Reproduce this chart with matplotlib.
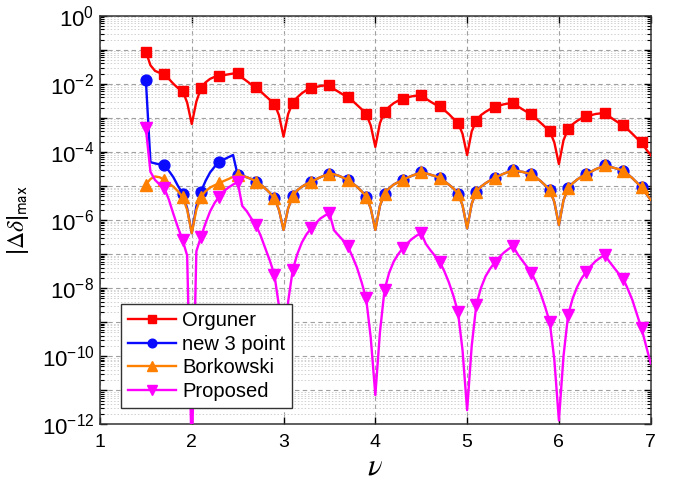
import numpy as np
import matplotlib
matplotlib.use("Agg")
import matplotlib.pyplot as plt
from matplotlib.ticker import LogLocator, FuncFormatter, NullFormatter, FixedLocator

plt.rcParams['font.family'] = ['Liberation Sans', 'DejaVu Sans']
plt.rcParams['mathtext.default'] = 'regular'

# ---- data ----
v_start, v_step, n_pts = 1.5, 0.05, 111
marker_every = 4  # markers at 1.5, 1.7, ..., 6.9

orguner = [
    8.8e-2, 3.5e-2, 2.4e-2, 2.1e-2, 2.0e-2, 1.4e-2, 1.0e-2, 7.5e-3, 6.3e-3, 2.8e-3,
    6.6e-4, 3.0e-3, 7.4e-3, 1.1e-2, 1.4e-2, 1.6e-2, 1.7e-2, 1.8e-2, 1.9e-2, 2.0e-2,
    2.1e-2, 1.5e-2, 1.2e-2, 9.5e-3, 7.9e-3, 6.0e-3, 4.5e-3, 3.4e-3, 2.6e-3, 1.2e-3,
    2.8e-4, 1.3e-3, 2.8e-3, 4.0e-3, 5.3e-3, 6.5e-3, 7.4e-3, 8.0e-3, 8.6e-3, 9.0e-3,
    9.3e-3, 7.0e-3, 5.8e-3, 4.8e-3, 4.2e-3, 3.2e-3, 2.4e-3, 1.8e-3, 1.3e-3, 6.0e-4,
    1.4e-4, 7.0e-4, 1.5e-3, 2.1e-3, 2.7e-3, 3.2e-3, 3.7e-3, 4.0e-3, 4.3e-3, 4.5e-3,
    4.7e-3, 3.7e-3, 3.0e-3, 2.5e-3, 2.2e-3, 1.7e-3, 1.3e-3, 9.5e-4, 7.2e-4, 3.4e-4,
    8.1e-5, 4.0e-4, 8.3e-4, 1.2e-3, 1.5e-3, 1.8e-3, 2.1e-3, 2.3e-3, 2.5e-3, 2.65e-3,
    2.8e-3, 2.2e-3, 1.8e-3, 1.5e-3, 1.3e-3, 9.5e-4, 7.2e-4, 5.4e-4, 4.1e-4, 1.9e-4,
    4.4e-5, 2.2e-4, 4.7e-4, 6.5e-4, 8.2e-4, 9.8e-4, 1.1e-3, 1.2e-3, 1.3e-3, 1.35e-3,
    1.4e-3, 1.1e-3, 8.8e-4, 7.2e-4, 6.2e-4, 4.6e-4, 3.4e-4, 2.5e-4, 1.9e-4, 1.2e-4,
    8.0e-5,
]

borkowski = [
    1.1e-5, 1.6e-5, 1.9e-5, 1.8e-5, 1.5e-5, 1.2e-5, 9.5e-6, 7.0e-6, 4.7e-6, 2.0e-6,
    4.1e-7, 2.0e-6, 4.7e-6, 7.0e-6, 9.0e-6, 1.05e-5, 1.2e-5, 1.4e-5, 1.6e-5, 1.85e-5,
    2.1e-5, 2.0e-5, 1.8e-5, 1.6e-5, 1.35e-5, 1.1e-5, 8.5e-6, 6.3e-6, 4.4e-6, 2.0e-6,
    5.1e-7, 2.2e-6, 5.0e-6, 7.5e-6, 9.5e-6, 1.15e-5, 1.3e-5, 1.55e-5, 1.8e-5, 2.05e-5,
    2.3e-5, 2.2e-5, 2.0e-5, 1.75e-5, 1.5e-5, 1.2e-5, 9.5e-6, 7.0e-6, 4.9e-6, 2.2e-6,
    5.1e-7, 2.6e-6, 6.0e-6, 8.5e-6, 1.1e-5, 1.3e-5, 1.5e-5, 1.75e-5, 2.0e-5, 2.25e-5,
    2.5e-5, 2.35e-5, 2.15e-5, 1.95e-5, 1.7e-5, 1.4e-5, 1.1e-5, 8.5e-6, 6.0e-6, 2.7e-6,
    5.7e-7, 3.0e-6, 6.8e-6, 9.5e-6, 1.2e-5, 1.45e-5, 1.7e-5, 2.0e-5, 2.3e-5, 2.6e-5,
    2.9e-5, 2.75e-5, 2.6e-5, 2.4e-5, 2.2e-5, 1.8e-5, 1.4e-5, 1.05e-5, 7.6e-6, 3.4e-6,
    7.1e-7, 3.8e-6, 8.5e-6, 1.2e-5, 1.55e-5, 1.9e-5, 2.2e-5, 2.6e-5, 3.1e-5, 3.5e-5,
    4.0e-5, 3.7e-5, 3.4e-5, 3.1e-5, 2.8e-5, 2.2e-5, 1.7e-5, 1.25e-5, 9.1e-6, 6.0e-6,
    3.9e-6,
]

# new 3 point: distinct up to v = 2.45, then coincides with Borkowski
new3_head = [
    1.3e-2, 5.0e-5, 4.6e-5, 4.3e-5, 4.0e-5, 2.8e-5, 1.8e-5, 1.0e-5, 6.0e-6, 2.2e-6,
    4.1e-7, 2.5e-6, 6.8e-6, 1.4e-5, 2.5e-5, 3.7e-5, 4.9e-5, 6.0e-5, 7.0e-5, 8.1e-5,
]
new3 = new3_head + borkowski[len(new3_head):]

proposed = [
    4.9e-4, 2.6e-5, 1.5e-5, 1.1e-5, 8.8e-6, 4.0e-6, 1.5e-6, 6.0e-7, 2.6e-7, 9.0e-8,
    1.0e-13, 1.2e-7, 3.2e-7, 8.0e-7, 1.8e-6, 3.2e-6, 4.9e-6, 7.0e-6, 9.0e-6, 1.1e-5,
    1.3e-5, 2.6e-6, 1.8e-6, 1.1e-6, 7.1e-7, 3.5e-7, 1.5e-7, 6.5e-8, 2.5e-8, 3.0e-9,
    1.0e-11, 4.0e-9, 3.4e-8, 1.0e-7, 2.2e-7, 3.8e-7, 5.7e-7, 8.0e-7, 1.1e-6, 1.35e-6,
    1.6e-6, 5.0e-7, 3.5e-7, 2.5e-7, 1.7e-7, 8.5e-8, 4.0e-8, 1.5e-8, 5.0e-9, 3.5e-10,
    7.2e-12, 5.0e-10, 8.8e-9, 2.8e-8, 6.0e-8, 1.0e-7, 1.5e-7, 2.1e-7, 2.8e-7, 3.5e-7,
    4.1e-7, 2.0e-7, 1.3e-7, 8.8e-8, 6.0e-8, 3.2e-8, 1.5e-8, 6.0e-9, 2.0e-9, 1.5e-10,
    2.6e-12, 2.0e-10, 3.2e-9, 1.0e-8, 2.2e-8, 3.7e-8, 5.6e-8, 8.0e-8, 1.1e-7, 1.4e-7,
    1.7e-7, 1.0e-7, 6.5e-8, 4.3e-8, 2.8e-8, 1.5e-8, 7.0e-9, 2.8e-9, 1.0e-9, 8.0e-11,
    1.3e-12, 1.0e-10, 1.6e-9, 5.0e-9, 1.1e-8, 2.0e-8, 3.0e-8, 4.5e-8, 6.2e-8, 7.8e-8,
    9.4e-8, 6.0e-8, 4.0e-8, 2.7e-8, 1.9e-8, 9.5e-9, 4.5e-9, 1.7e-9, 6.6e-10, 2.0e-10,
    6.2e-11,
]

labels = ["Orguner", "new 3 point", "Borkowski", "Proposed"]
x_ticks = [1, 2, 3, 4, 5, 6, 7]

v = v_start + v_step * np.arange(n_pts)

# ---- figure ----
fig = plt.figure(figsize=(6.81, 4.82), dpi=100)
ax = fig.add_axes([0.1468, 0.1197, 0.8087, 0.8477])

styles = [
    dict(color="#ff0000", marker="s", ms=7.8),
    dict(color="#0a0aff", marker="o", ms=7.8),
    dict(color="#ff8000", marker="^", ms=8.8),
    dict(color="#ff00ff", marker="v", ms=8.8),
]
series = [orguner, new3, borkowski, proposed]
for i, (vals, lab, st) in enumerate(zip(series, labels, styles)):
    ax.plot(v, vals, color=st["color"], lw=1.7, marker=st["marker"], ms=st["ms"],
            mfc=st["color"], mec=st["color"], markevery=slice(0, None, marker_every),
            label=lab, zorder=3 + i, clip_on=True)

ax.set_yscale("log")
ax.set_xlim(1, 7)
ax.set_ylim(1e-12, 1)
ax.xaxis.set_major_locator(FixedLocator(x_ticks))
ax.set_xticklabels([str(t) for t in x_ticks])

ax.yaxis.set_major_locator(LogLocator(base=10, numticks=30))
ax.yaxis.set_minor_locator(LogLocator(base=10, subs=np.arange(2, 10), numticks=30))
ax.yaxis.set_minor_formatter(NullFormatter())

def yfmt(val, pos):
    e = int(round(np.log10(val)))
    if e % 2 != 0:
        return ""
    return r"$10^{%d}$" % e
ax.yaxis.set_major_formatter(FuncFormatter(yfmt))

ax.tick_params(axis="both", which="both", direction="in", top=True, right=True,
               colors="black")
ax.tick_params(axis="x", labelsize=14, pad=7)
ax.tick_params(axis="y", labelsize=16, pad=4)
ax.tick_params(axis="both", which="major", length=5, width=1)
ax.tick_params(axis="y", which="minor", length=3, width=0.8)

ax.grid(True, which="major", axis="both", linestyle=(0, (4, 3)), color="#a0a0a0", lw=0.8)
ax.grid(True, which="minor", axis="y", linestyle=(0, (1.5, 2)), color="#d0d0d0", lw=0.7)
ax.set_axisbelow(True)

for s in ax.spines.values():
    s.set_linewidth(1.1)
    s.set_color("#333333")

ax.set_xlabel(r"$\mathit{\nu}$", fontsize=22, math_fontfamily="stix", labelpad=0)
ax.set_ylabel(r"$|\mathit{\Delta\delta}|_{\mathsf{max}}$", fontsize=17, math_fontfamily="stix")
ax.yaxis.set_label_coords(-0.125, 0.5)

leg = ax.legend(loc="lower left", bbox_to_anchor=(0.038, 0.039), borderaxespad=0,
                fontsize=14.5, frameon=True, fancybox=False, edgecolor="#333333",
                framealpha=1, handlelength=2.4, markerscale=0.8, labelspacing=0.24,
                borderpad=0.35, handletextpad=0.3)
leg.get_frame().set_linewidth(1.0)
leg.set_zorder(20)

fig.savefig("out.png", dpi=100)
